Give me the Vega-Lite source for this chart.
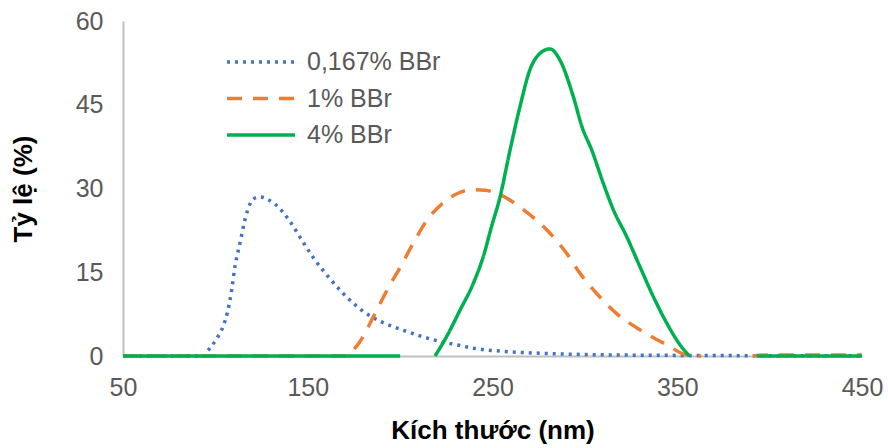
{
  "$schema": "https://vega.github.io/schema/vega-lite/v6.json",
  "width": 739,
  "height": 335,
  "autosize": {"type": "none"},
  "padding": {"left": 123, "top": 21, "right": 26, "bottom": 92},
  "background": "white",
  "config": {
    "view": {"stroke": null},
    "font": "Liberation Sans",
    "axis": {
      "grid": false,
      "ticks": false,
      "domainColor": "#BFBFBF",
      "domainWidth": 2,
      "labelFont": "Liberation Sans",
      "labelFontSize": 25,
      "labelColor": "#595959",
      "titleFont": "Liberation Sans",
      "titleFontSize": 26,
      "titleFontWeight": "bold",
      "titleColor": "#000000"
    }
  },
  "data": {
    "values": [
      {"series": "0,167% BBr", "seg": "a", "size": 50, "value": 0},
      {"series": "0,167% BBr", "seg": "a", "size": 70, "value": 0},
      {"series": "0,167% BBr", "seg": "a", "size": 90, "value": 0},
      {"series": "0,167% BBr", "seg": "a", "size": 94, "value": 0},
      {"series": "0,167% BBr", "seg": "a", "size": 95.2, "value": 0.6},
      {"series": "0,167% BBr", "seg": "a", "size": 100.3, "value": 2.9},
      {"series": "0,167% BBr", "seg": "a", "size": 104.3, "value": 5.4},
      {"series": "0,167% BBr", "seg": "a", "size": 106.6, "value": 7.9},
      {"series": "0,167% BBr", "seg": "a", "size": 108.8, "value": 11.8},
      {"series": "0,167% BBr", "seg": "a", "size": 110.6, "value": 16.0},
      {"series": "0,167% BBr", "seg": "a", "size": 113.3, "value": 20.2},
      {"series": "0,167% BBr", "seg": "a", "size": 116.0, "value": 24.4},
      {"series": "0,167% BBr", "seg": "a", "size": 118.7, "value": 27.2},
      {"series": "0,167% BBr", "seg": "a", "size": 121.5, "value": 28.3},
      {"series": "0,167% BBr", "seg": "a", "size": 124.2, "value": 28.5},
      {"series": "0,167% BBr", "seg": "a", "size": 128.0, "value": 28.1},
      {"series": "0,167% BBr", "seg": "a", "size": 132.3, "value": 27.2},
      {"series": "0,167% BBr", "seg": "a", "size": 140.4, "value": 24.1},
      {"series": "0,167% BBr", "seg": "a", "size": 146.7, "value": 20.8},
      {"series": "0,167% BBr", "seg": "a", "size": 153.9, "value": 17.2},
      {"series": "0,167% BBr", "seg": "a", "size": 161.1, "value": 14.2},
      {"series": "0,167% BBr", "seg": "a", "size": 169.2, "value": 11.2},
      {"series": "0,167% BBr", "seg": "a", "size": 179.2, "value": 8.2},
      {"series": "0,167% BBr", "seg": "a", "size": 190.0, "value": 6.1},
      {"series": "0,167% BBr", "seg": "a", "size": 201.8, "value": 4.6},
      {"series": "0,167% BBr", "seg": "a", "size": 218.0, "value": 2.9},
      {"series": "0,167% BBr", "seg": "a", "size": 230.6, "value": 2.0},
      {"series": "0,167% BBr", "seg": "a", "size": 239.6, "value": 1.4},
      {"series": "0,167% BBr", "seg": "a", "size": 257.0, "value": 0.8},
      {"series": "0,167% BBr", "seg": "a", "size": 275.7, "value": 0.5},
      {"series": "0,167% BBr", "seg": "a", "size": 311.8, "value": 0.2},
      {"series": "0,167% BBr", "seg": "a", "size": 357.0, "value": 0.1},
      {"series": "0,167% BBr", "seg": "a", "size": 400.0, "value": 0.05},
      {"series": "0,167% BBr", "seg": "a", "size": 450.0, "value": 0.02},
      {"series": "1% BBr", "seg": "a", "size": 50, "value": 0},
      {"series": "1% BBr", "seg": "a", "size": 100, "value": 0},
      {"series": "1% BBr", "seg": "a", "size": 150, "value": 0},
      {"series": "1% BBr", "seg": "a", "size": 171, "value": 0},
      {"series": "1% BBr", "seg": "a", "size": 172.9, "value": 0.5},
      {"series": "1% BBr", "seg": "a", "size": 178.3, "value": 2.6},
      {"series": "1% BBr", "seg": "a", "size": 185.5, "value": 7.0},
      {"series": "1% BBr", "seg": "a", "size": 193.6, "value": 12.2},
      {"series": "1% BBr", "seg": "a", "size": 199.9, "value": 15.8},
      {"series": "1% BBr", "seg": "a", "size": 207.1, "value": 20.2},
      {"series": "1% BBr", "seg": "a", "size": 214.3, "value": 24.2},
      {"series": "1% BBr", "seg": "a", "size": 224.3, "value": 27.7},
      {"series": "1% BBr", "seg": "a", "size": 231.0, "value": 29.1},
      {"series": "1% BBr", "seg": "a", "size": 239.0, "value": 29.8},
      {"series": "1% BBr", "seg": "a", "size": 246.0, "value": 29.7},
      {"series": "1% BBr", "seg": "a", "size": 254.1, "value": 28.9},
      {"series": "1% BBr", "seg": "a", "size": 266.7, "value": 26.2},
      {"series": "1% BBr", "seg": "a", "size": 279.3, "value": 22.6},
      {"series": "1% BBr", "seg": "a", "size": 290.1, "value": 18.4},
      {"series": "1% BBr", "seg": "a", "size": 297.4, "value": 14.8},
      {"series": "1% BBr", "seg": "a", "size": 306.4, "value": 11.2},
      {"series": "1% BBr", "seg": "a", "size": 317.2, "value": 7.6},
      {"series": "1% BBr", "seg": "a", "size": 329.8, "value": 4.7},
      {"series": "1% BBr", "seg": "a", "size": 344.3, "value": 2.0},
      {"series": "1% BBr", "seg": "a", "size": 355.1, "value": 0.2},
      {"series": "1% BBr", "seg": "a", "size": 363.0, "value": 0},
      {"series": "1% BBr", "seg": "b", "size": 391.0, "value": 0},
      {"series": "1% BBr", "seg": "b", "size": 400.0, "value": 0.2},
      {"series": "1% BBr", "seg": "b", "size": 425.0, "value": 0.2},
      {"series": "1% BBr", "seg": "b", "size": 450.0, "value": 0.2},
      {"series": "4% BBr", "seg": "a", "size": 50, "value": 0},
      {"series": "4% BBr", "seg": "a", "size": 100, "value": 0},
      {"series": "4% BBr", "seg": "a", "size": 150, "value": 0},
      {"series": "4% BBr", "seg": "a", "size": 200, "value": 0},
      {"series": "4% BBr", "seg": "b", "size": 218.9, "value": 0},
      {"series": "4% BBr", "seg": "b", "size": 225.2, "value": 3.5},
      {"series": "4% BBr", "seg": "b", "size": 232.4, "value": 8.2},
      {"series": "4% BBr", "seg": "b", "size": 239.6, "value": 13.0},
      {"series": "4% BBr", "seg": "b", "size": 245.0, "value": 17.8},
      {"series": "4% BBr", "seg": "b", "size": 249.5, "value": 23.2},
      {"series": "4% BBr", "seg": "b", "size": 254.1, "value": 28.5},
      {"series": "4% BBr", "seg": "b", "size": 259.5, "value": 36.9},
      {"series": "4% BBr", "seg": "b", "size": 264.9, "value": 44.7},
      {"series": "4% BBr", "seg": "b", "size": 270.3, "value": 51.3},
      {"series": "4% BBr", "seg": "b", "size": 275.7, "value": 54.2},
      {"series": "4% BBr", "seg": "b", "size": 281.1, "value": 55.0},
      {"series": "4% BBr", "seg": "b", "size": 286.5, "value": 53.0},
      {"series": "4% BBr", "seg": "b", "size": 293.7, "value": 46.5},
      {"series": "4% BBr", "seg": "b", "size": 298.5, "value": 41.0},
      {"series": "4% BBr", "seg": "b", "size": 303.7, "value": 36.9},
      {"series": "4% BBr", "seg": "b", "size": 310.0, "value": 30.9},
      {"series": "4% BBr", "seg": "b", "size": 315.4, "value": 26.2},
      {"series": "4% BBr", "seg": "b", "size": 322.6, "value": 21.4},
      {"series": "4% BBr", "seg": "b", "size": 329.8, "value": 16.0},
      {"series": "4% BBr", "seg": "b", "size": 337.1, "value": 10.6},
      {"series": "4% BBr", "seg": "b", "size": 344.3, "value": 5.9},
      {"series": "4% BBr", "seg": "b", "size": 351.5, "value": 2.0},
      {"series": "4% BBr", "seg": "b", "size": 356.5, "value": 0},
      {"series": "4% BBr", "seg": "c", "size": 393.0, "value": 0},
      {"series": "4% BBr", "seg": "c", "size": 420.0, "value": 0},
      {"series": "4% BBr", "seg": "c", "size": 450.0, "value": 0}
    ]
  },
  "mark": {"type": "line", "interpolate": "monotone", "strokeWidth": 3.5},
  "encoding": {
    "x": {
      "field": "size",
      "type": "quantitative",
      "scale": {"domain": [50, 450], "nice": false, "zero": false},
      "axis": {"values": [50, 150, 250, 350, 450], "title": "Kích thước (nm)", "labelPadding": 19, "titlePadding": 17, "labelFlush": false}
    },
    "y": {
      "field": "value",
      "type": "quantitative",
      "scale": {"domain": [0, 60], "nice": false},
      "axis": {"values": [0, 15, 30, 45, 60], "title": "Tỷ lệ (%)", "labelPadding": 20, "titlePadding": 39}
    },
    "color": {
      "field": "series",
      "type": "nominal",
      "scale": {"domain": ["0,167% BBr", "1% BBr", "4% BBr"], "range": ["#4472C4", "#ED7D31", "#00B050"]},
      "legend": {
        "title": null,
        "orient": "none",
        "legendX": 119,
        "legendY": 22,
        "padding": 0,
        "symbolType": "M-2,0H2",
        "symbolSize": 1156,
        "symbolStrokeWidth": 3.5,
        "labelOffset": 27,
        "labelFontSize": 25,
        "labelColor": "#595959",
        "labelFont": "Liberation Sans",
        "rowPadding": 4.5
      }
    },
    "strokeDash": {
      "field": "series",
      "type": "nominal",
      "scale": {"domain": ["0,167% BBr", "1% BBr", "4% BBr"], "range": [[3, 5], [15, 11], [1, 0]]},
      "legend": {
        "title": null,
        "orient": "none",
        "legendX": 119,
        "legendY": 22,
        "padding": 0,
        "symbolType": "M-2,0H2",
        "symbolSize": 1156,
        "symbolStrokeWidth": 3.5,
        "labelOffset": 27,
        "labelFontSize": 25,
        "labelColor": "#595959",
        "labelFont": "Liberation Sans",
        "rowPadding": 4.5
      }
    },
    "detail": {"field": "seg"}
  }
}
